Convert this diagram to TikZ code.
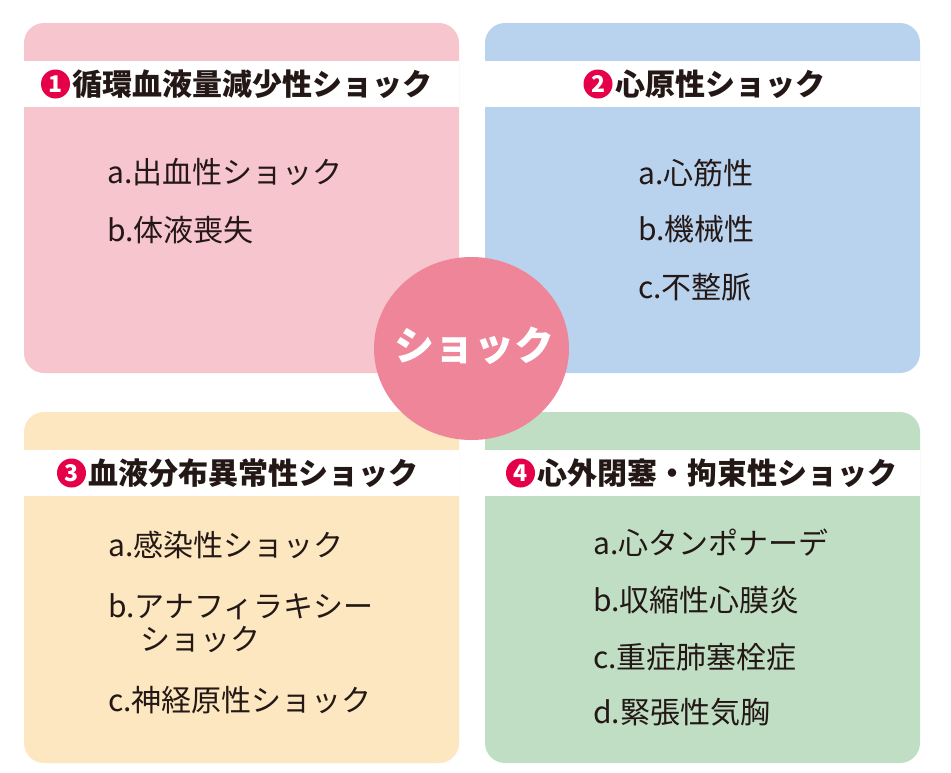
\documentclass[tikz,border=0pt]{standalone}
\usepackage{fontspec}
\setmainfont{Noto Sans CJK JP}
\usetikzlibrary{shapes.geometric}
\definecolor{pinkp}{HTML}{F7C5CD}
\definecolor{bluep}{HTML}{B9D3EE}
\definecolor{yellowp}{HTML}{FDE7C0}
\definecolor{greenp}{HTML}{C0DEC4}
\definecolor{circ}{HTML}{EE8599}
\definecolor{badgered}{HTML}{E5004A}
\definecolor{ink}{HTML}{231815}
\begin{document}
\begin{tikzpicture}[x=1pt,y=-1pt,
  panel/.style={rectangle, rounded corners=20pt, minimum width=435pt, minimum height=350pt, inner sep=0pt, draw=none},
  band/.style={rectangle, fill=white, minimum width=435pt, minimum height=46pt, inner sep=0pt},
  badge/.style={circle, fill=badgered, text=white, minimum size=29pt, inner sep=0pt, font=\fontsize{23}{23}\selectfont\bfseries},
  title/.style={anchor=west, inner sep=0pt, text=ink, font=\fontsize{30}{30}\selectfont\bfseries},
  item/.style={anchor=west, inner sep=0pt, text=ink, font=\fontsize{30}{30}\selectfont},
  hub/.style={ellipse, fill=circ, minimum width=195pt, minimum height=183pt, inner sep=0pt},
  hubtext/.style={inner sep=0pt, text=white, font=\fontsize{40}{40}\selectfont\bfseries}]
\useasboundingbox (0,0) rectangle (951,772);
% panels
\node[panel, fill=pinkp] (p1) at (241.5,198) {};
\node[panel, fill=bluep] (p2) at (702.5,198) {};
\node[panel, fill=yellowp, minimum height=351pt] (p3) at (241.5,587.5) {};
\node[panel, fill=greenp, minimum height=351pt] (p4) at (702.5,587.5) {};
% white title bands
\node[band] (b1) at (241.5,84) {};
\node[band] (b2) at (702.5,84) {};
\node[band] (b3) at (241.5,473) {};
\node[band] (b4) at (702.5,473) {};
% titles
\node[badge] (n1) at (55.5,84) {1};
\node[title] (t1) at (72,84) {循環血液量減少性ショック};
\node[badge] (n2) at (598,84) {2};
\node[title] (t2) at (615,84) {心原性ショック};
\node[badge] (n3) at (71.5,473) {3};
\node[title] (t3) at (88,473) {血液分布異常性ショック};
\node[badge] (n4) at (520.5,473) {4};
\node[title] (t4) at (537,473) {心外閉塞・拘束性ショック};
% items panel 1
\node[item] (i1a) at (107,172) {a.出血性ショック};
\node[item] (i1b) at (107,230) {b.体液喪失};
% items panel 2
\node[item] (i2a) at (638,173) {a.心筋性};
\node[item] (i2b) at (638,229) {b.機械性};
\node[item] (i2c) at (638,287) {c.不整脈};
% items panel 3
\node[item] (i3a) at (108,545) {a.感染性ショック};
\node[item] (i3b) at (108,607) {b.アナフィラキシー};
\node[item] (i3b2) at (140,640) {ショック};
\node[item] (i3c) at (108,700) {c.神経原性ショック};
% items panel 4
\node[item] (i4a) at (593,543) {a.心タンポナーデ};
\node[item] (i4b) at (593,600) {b.収縮性心膜炎};
\node[item] (i4c) at (593,657) {c.重症肺塞栓症};
\node[item] (i4d) at (593,712) {d.緊張性気胸};
% centre
\node[hub] (c) at (471.5,348.5) {};
\node[hubtext] (ct) at (474,346) {ショック};
\end{tikzpicture}
\end{document}
